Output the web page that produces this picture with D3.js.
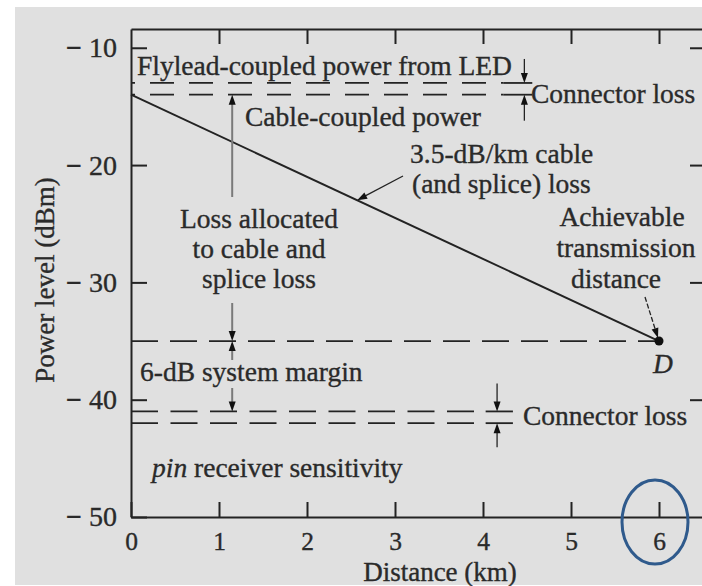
<!DOCTYPE html>
<html>
<head>
<meta charset="utf-8">
<script src="https://cdn.jsdelivr.net/npm/d3@7"></script>
<style>
  html, body { margin: 0; padding: 0; background: #ffffff; }
  svg { display: block; }
  text { font-family: "Liberation Serif", "Times New Roman", serif; fill: #2a2a2a;
         stroke: #2a2a2a; stroke-width: 0.35px; }
</style>
</head>
<body>
<svg id="chart" width="702" height="586"></svg>
<script>
// ---- Power budget values ----
const distanceTicks = [0, 1, 2, 3, 4, 5, 6];          // km
const powerTicks = [-10, -20, -30, -40, -50];        // dBm, left axis
const rightPowerTicks = [-10, -20, -30, -40];        // dBm, right axis
const flyleadPower = -13;          // dBm, flylead-coupled power from LED
const cablePower = -14;            // dBm, cable-coupled power
const marginLevel = -35;           // dBm, top of 6-dB system margin
const receiverConnectorLevel = -41;// dBm, before receiver connector
const receiverSensitivity = -42;   // dBm, pin receiver sensitivity
const lossLineDistance = [0, 6];   // km
const lossLinePower = [-14, -35];  // dBm (3.5 dB/km)
const achievableDistance = 6;      // km, point D

const svg = d3.select("#chart");
const ink = "#232323";
const textSize = 27.5;

// page background panel
svg.append("rect")
  .attr("x", 15).attr("y", 7).attr("width", 687).attr("height", 578)
  .attr("fill", "#e0e0e0");

const x = d3.scaleLinear().domain([0, 6.5]).range([131, 703]);
const y = d3.scaleLinear().domain([-50, -8.4]).range([517, 29]);

function styleAxis(g, size) {
  g.attr("font-family", null).attr("font-size", null);
  g.select(".domain").attr("stroke", ink).attr("stroke-width", 2);
  g.selectAll(".tick line").attr("stroke", ink).attr("stroke-width", 2);
  g.selectAll(".tick text").attr("font-size", size).attr("fill", "#2a2a2a");
}

// left axis, with a heavy minus sign in front of each value
svg.append("g")
  .attr("transform", `translate(${x(0)},0)`)
  .call(d3.axisLeft(y).tickValues(powerTicks).tickSizeInner(-16).tickSizeOuter(0)
    .tickPadding(14).tickFormat(d => "\u2212 " + Math.abs(d)))
  .call(g => styleAxis(g, 28))
  .call(g => g.selectAll(".tick text").each(function(d) {
    const t = d3.select(this).text("");
    t.append("tspan").attr("font-weight", "bold").text("\u2212");
    t.append("tspan").text(" " + Math.abs(d));
  }));

// bottom axis
svg.append("g")
  .attr("transform", `translate(0,${y(-50)})`)
  .call(d3.axisBottom(x).tickValues(distanceTicks).tickSizeInner(-15).tickSizeOuter(0)
    .tickPadding(15).tickFormat(d3.format("d")))
  .call(g => styleAxis(g, 25.5));

// top axis (ticks only)
svg.append("g")
  .attr("transform", `translate(0,${y.range()[1]})`)
  .call(d3.axisTop(x).tickValues(distanceTicks.slice(1)).tickSizeInner(-15).tickSizeOuter(0)
    .tickFormat(() => ""))
  .call(g => styleAxis(g, 25));

// right axis (ticks only)
svg.append("g")
  .attr("transform", `translate(${x.range()[1]},0)`)
  .call(d3.axisRight(y).tickValues(rightPowerTicks).tickSizeInner(-13).tickSizeOuter(0)
    .tickFormat(() => ""))
  .call(g => styleAxis(g, 25));

// horizontal level lines
function level(value, d0, d1, dash, offset) {
  svg.append("line")
    .attr("x1", x(d0)).attr("x2", x(d1))
    .attr("y1", y(value)).attr("y2", y(value))
    .attr("stroke", ink).attr("stroke-width", 1.8)
    .attr("stroke-dasharray", dash || null)
    .attr("stroke-dashoffset", offset || 0);
}
level(flyleadPower, 0, 4.23, "24,15", 20);
level(cablePower, 0, 4.23, "24,15", 20);
level(flyleadPower, 4.23, 4.56);
level(cablePower, 4.23, 4.56);
level(marginLevel, 0, achievableDistance, "27,12", 0);
level(receiverConnectorLevel, 0, 4.03, "27,12.5", 0);
level(receiverSensitivity, 0, 4.03, "27,12.5", 0);
level(receiverConnectorLevel, 4.03, 4.34);
level(receiverSensitivity, 4.03, 4.34);

// cable + splice loss line
const lossData = lossLineDistance.map((d, i) => [d, lossLinePower[i]]);
svg.append("path")
  .datum(lossData)
  .attr("d", d3.line().x(d => x(d[0])).y(d => y(d[1])))
  .attr("fill", "none").attr("stroke", ink).attr("stroke-width", 2);

// point D
svg.append("circle")
  .attr("cx", x(achievableDistance)).attr("cy", y(marginLevel)).attr("r", 4.5)
  .attr("fill", "#111");

// arrows: shaft from (x0,y0) to tip (x1,y1)
function arrow(x0, y0, x1, y1, opts = {}) {
  const color = opts.color || ink;
  const len = opts.head || 10, half = opts.half || 3.5;
  const ang = Math.atan2(y1 - y0, x1 - x0);
  svg.append("line")
    .attr("x1", x0).attr("y1", y0)
    .attr("x2", x1 - Math.cos(ang) * len * 0.6).attr("y2", y1 - Math.sin(ang) * len * 0.6)
    .attr("stroke", color).attr("stroke-width", opts.width || 1.5)
    .attr("stroke-dasharray", opts.dash || null);
  const bx = x1 - Math.cos(ang) * len, by = y1 - Math.sin(ang) * len;
  const px = -Math.sin(ang) * half, py = Math.cos(ang) * half;
  svg.append("path")
    .attr("d", `M${x1},${y1}L${bx + px},${by + py}L${bx - px},${by - py}Z`)
    .attr("fill", opts.headColor || "#111");
}

// top connector loss arrows
const xc1 = x(4.47);
arrow(xc1, y(flyleadPower) - 24, xc1, y(flyleadPower), { width: 1.3 });
arrow(xc1, y(cablePower) + 26, xc1, y(cablePower), { width: 1.3 });

// receiver connector loss arrows
const xc2 = x(4.16);
arrow(xc2, y(receiverConnectorLevel) - 28, xc2, y(receiverConnectorLevel), { width: 1.3 });
arrow(xc2, y(receiverSensitivity) + 24, xc2, y(receiverSensitivity), { width: 1.3 });

// loss allocated to cable and splice
const xa = x(1.15);
arrow(xa, 197, xa, y(cablePower), { color: "#7a7a7a", width: 2 });
arrow(xa, 303, xa, y(marginLevel), { color: "#7a7a7a", width: 2 });
// system margin arrows
arrow(xa, 360, xa, y(marginLevel), { color: "#7a7a7a", width: 2 });
arrow(xa, 388, xa, y(receiverConnectorLevel), { color: "#7a7a7a", width: 2 });

// pointer to the loss line
const tipD = 2.57;
arrow(403, 176, x(tipD), y(cablePower - 3.5 * tipD), { width: 1.3 });
// pointer to D
arrow(645, 297, x(achievableDistance) - 1, y(marginLevel) - 3, { width: 1.3, dash: "5,2" });

// annotation text
function label(t, tx, ty, anchor, size, italic) {
  return svg.append("text")
    .attr("x", tx).attr("y", ty)
    .attr("text-anchor", anchor || "start")
    .attr("font-size", size || textSize)
    .attr("font-style", italic ? "italic" : null)
    .text(t);
}
label("Flylead-coupled power from LED", 137, 75);
label("Connector loss", 531, 103);
label("Cable-coupled power", 245, 126);
label("3.5-dB/km cable", 410, 163);
label("(and splice) loss", 412, 193);
label("Loss allocated", 259, 228, "middle");
label("to cable and", 259, 258, "middle");
label("splice loss", 259, 288, "middle");
label("Achievable", 622, 226, "middle");
label("transmission", 626, 257, "middle");
label("distance", 616, 288, "middle");
label("D", x(achievableDistance) + 4, 373, "middle", textSize, true);
label("6-dB system margin", 140, 381);
label("Connector loss", 523, 425);
const pinLabel = label("", 152, 477);
pinLabel.append("tspan").attr("font-style", "italic").text("pin");
pinLabel.append("tspan").text(" receiver sensitivity");

// axis titles
label("Distance (km)", 440, 581, "middle", 27);
svg.append("text")
  .attr("transform", "translate(54,280) rotate(-90)")
  .attr("text-anchor", "middle").attr("font-size", 27)
  .text("Power level (dBm)");

// highlight around the 6 km tick label
svg.append("ellipse")
  .attr("cx", x(achievableDistance) - 4).attr("cy", 522)
  .attr("rx", 33).attr("ry", 42)
  .attr("fill", "none").attr("stroke", "#2f5a8c").attr("stroke-width", 3);
</script>
</body>
</html>
